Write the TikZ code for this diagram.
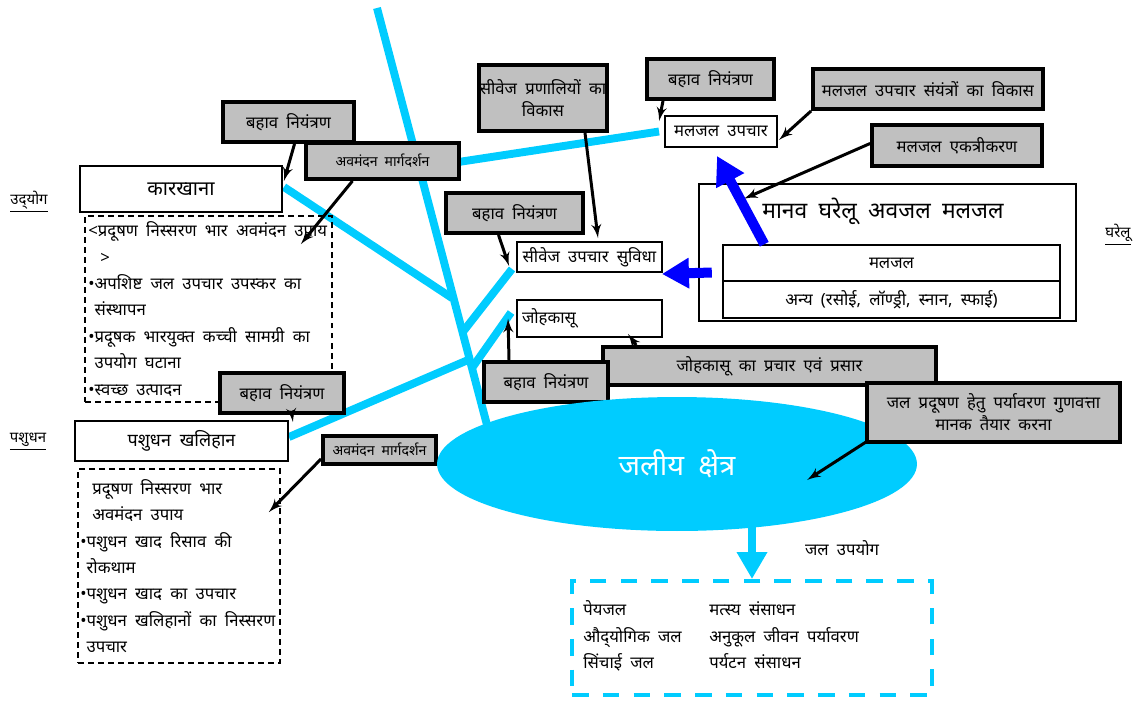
\documentclass[tikz,border=0pt]{standalone}
\usepackage{fontspec}
\setmainfont[Script=Devanagari,WordSpace=1.9]{Noto Sans}
\usepackage{tikz}
\usetikzlibrary{arrows,arrows.meta,shapes,positioning,calc,backgrounds}
\definecolor{watercyan}{HTML}{00CCFF}
\definecolor{boxgray}{HTML}{C0C0C0}
\newcommand{\fsbox}{\fontsize{9.5}{12.5}\selectfont}
\newcommand{\fssmall}{\fontsize{8}{9.5}\selectfont}
\newcommand{\fslabel}{\fontsize{8.5}{10}\selectfont}
\newcommand{\fsbig}{\fontsize{11.5}{14}\selectfont}
\newcommand{\fsmid}{\fontsize{10.2}{13}\selectfont}
\newcommand{\fstitle}{\fontsize{13}{16}\selectfont}
\newcommand{\fswater}{\fontsize{16.5}{20}\selectfont}
\newcommand{\fslist}{\fontsize{9.5}{15}\selectfont}
\begin{document}
\begin{tikzpicture}[x=0.02cm,y=-0.02cm, > = latex',
 graybox/.style={draw,line width=2.2pt,fill=boxgray,inner sep=0pt,align=center,font=\fsbox},
 whitebox/.style={draw,line width=1.1pt,fill=white,inner sep=0pt,font=\fsbox},
 listbox/.style={draw,line width=0.9pt,dash pattern=on 3.4pt off 2.3pt},
 listtext/.style={anchor=west,align=left,inner sep=0pt,font=\fslist},
 arr/.style={->,line width=1.7pt},
 branch/.style={watercyan,line width=4.5pt},
 bluearr/.style={blue,line width=5.7pt,-{Triangle[length=0.56cm,width=0.6cm]}}]
\useasboundingbox (0,0) rectangle (1146,701);
%industry: factory and its measures
\node[font=\fslabel] (udyog) at (29,202) {\underline{उद्^^^^200cयोग}};
\node[whitebox,minimum width=4.04cm,minimum height=0.92cm,font=\fsbig] (karkhana) at (181,189) {कारखाना};
\node[listbox,minimum width=4.94cm,minimum height=3.72cm] (indlist) at (208.5,309) {};
\node[listtext] (indtext) at (88,309) {<प्रदूषण निस्सरण भार अवमंदन उपाय\\\hspace*{0.24cm}>\\•अपशिष्ट जल उपचार उपस्कर का\\\phantom{•}संस्थापन\\•प्रदूषक भारयुक्त कच्ची सामग्री का\\\phantom{•}उपयोग घटाना\\•स्वच्छ उत्पादन};
\node[graybox,minimum width=2.62cm,minimum height=0.8cm] (bn1) at (288.5,122) {बहाव नियंत्रण};
\node[graybox,minimum width=3.06cm,minimum height=0.72cm,font=\fssmall] (am1) at (382.5,161) {अवमंदन मार्गदर्शन};
%livestock: farm and its measures
\node[font=\fslabel] (pashudhan) at (28,442) {\underline{पशुधन}};
\node[whitebox,minimum width=4.26cm,minimum height=0.8cm,font=\fsmid] (khalihan) at (181.5,441) {पशुधन खलिहान};
\node[listbox,minimum width=4.04cm,minimum height=3.88cm] (livelist) at (179,566) {};
\node[listtext] (livetext) at (80,566) {\hspace*{0.24cm}प्रदूषण निस्सरण भार\\\hspace*{0.24cm}अवमंदन उपाय\\•पशुधन खाद रिसाव की\\\phantom{•}रोकथाम\\•पशुधन खाद का उपचार\\•पशुधन खलिहानों का निस्सरण\\\phantom{•}उपचार};
\node[graybox,minimum width=2.48cm,minimum height=0.8cm] (bn2) at (282,393) {बहाव नियंत्रण};
\node[graybox,minimum width=2.26cm,minimum height=0.56cm,font=\fssmall] (am2) at (379.5,450) {अवमंदन मार्गदर्शन};
%sewerage in the middle
\node[graybox,minimum width=2.56cm,minimum height=1.32cm] (prnali) at (543,98) {सीवेज प्रणालियों का\\विकास};
\node[graybox,minimum width=2.54cm,minimum height=0.8cm] (bn3) at (710.5,79) {बहाव नियंत्रण};
\node[whitebox,minimum width=2.24cm,minimum height=0.62cm] (maljalupchar) at (721,131.5) {मलजल उपचार};
\node[graybox,minimum width=4.6cm,minimum height=0.8cm] (sanyantra) at (928,89) {मलजल उपचार संयंत्रों का विकास};
\node[graybox,minimum width=3.4cm,minimum height=0.82cm] (ekatri) at (957,145.5) {मलजल एकत्रीकरण};
\node[graybox,minimum width=2.74cm,minimum height=0.8cm] (bn4) at (514.5,213) {बहाव नियंत्रण};
\node[whitebox,minimum width=2.9cm,minimum height=0.6cm] (sivejsuvidha) at (589.5,257) {सीवेज उपचार सुविधा};
\node[whitebox,minimum width=2.9cm,minimum height=0.74cm,text width=2.7cm,inner xsep=0.1cm,align=left] (johkasu) at (589.5,318.5) {जोहकासू};
\node[graybox,minimum width=6.66cm,minimum height=0.76cm] (prachar) at (769.5,366) {जोहकासू का प्रचार एवं प्रसार};
\node[graybox,minimum width=2.48cm,minimum height=0.8cm] (bn5) at (546,382) {बहाव नियंत्रण};
%domestic wastewater
\node[draw,line width=1.4pt,minimum width=7.54cm,minimum height=2.74cm] (ghar) at (887.5,252.5) {};
\node[font=\fstitle] (ghartitle) at (883,211) {मानव घरेलू अवजल मलजल};
\node[draw,line width=0.85pt,minimum width=6.74cm,minimum height=0.72cm,font=\fsbox] (maljal) at (891.5,263) {मलजल};
\node[draw,line width=0.85pt,minimum width=6.74cm,minimum height=0.74cm,font=\fsbox] (anya) at (891.5,299.5) {अन्य (रसोई, लॉण्ड्री, स्नान, स्फाई)};
\node[font=\fslabel] (gharelu) at (1118,235) {\underline{घरेलू}};
%water body and its uses
\node[ellipse,fill=watercyan,minimum width=9.6cm,minimum height=2.68cm,inner sep=0pt,text=white,font=\fswater] (jaliya) at (677,464) {\raisebox{-0.16cm}{जलीय क्षेत्र}};
\node[graybox,minimum width=5.06cm,minimum height=1.18cm] (manak) at (993.5,412.5) {जल प्रदूषण हेतु पर्यावरण गुणवत्ता\\मानक तैयार करना};
\node[font=\fsbox] (jalupyog) at (842,548) {जल उपयोग};
\node[draw=watercyan,line width=2.3pt,dash pattern=on 9.5pt off 8pt,minimum width=7.2cm,minimum height=2.28cm] (uselist) at (752,638) {};
\node[listtext] (usetext) at (583,637) {\begin{tabular}{@{}p{2.52cm}@{}l@{}}पेयजल & मत्स्य संसाधन\\औद्^^^^200cयोगिक जल & अनुकूल जीवन पर्यावरण\\सिंचाई जल & पर्यटन संसाधन\end{tabular}};
%the drain lines behind everything
\coordinate (trunktop) at (377,8); \coordinate (trunkfoot) at (487,425);
\coordinate (jk) at (452,298); \coordinate (jm) at (419,168); \coordinate (js) at (462,333);
\coordinate (jj) at (472,368); \coordinate (jp) at (468,360);
\begin{scope}[on background layer]
\draw[branch] (trunktop) -- (trunkfoot);
\draw[branch] ($(karkhana.east)+(1,-2)$) -- (jk);
\draw[branch] ($(maljalupchar.west)+(-5,0)$) -- (jm);
\draw[branch] ($(sivejsuvidha.south west)+(-4,-4)$) -- (js);
\draw[branch] ($(johkasu.west)+(-5,-6)$) -- (jj);
\draw[branch] ($(khalihan.east)+(0,-4)$) -- (jp);
\end{scope}
%black arrows from the measures
\draw[arr] ($(bn1.south)+(6,0)$) -- ($(karkhana.north east)+(1,16)$);
\draw[arr] ($(am1.south)+(-30,0)$) -- ($(indlist.north east)+(-32,29)$);
\draw[arr] ($(bn2.south)+(10,0)$) -- ($(khalihan.north east)+(4,2)$);
\draw[arr] ($(am2.south west)+(0,-7)$) -- ($(livelist.north east)+(-12,44)$);
\draw[arr] ($(prnali.south)+(42,0)$) -- ($(sivejsuvidha.north)+(8.5,-3)$);
\draw[arr] ($(bn3.south)+(-47.5,0)$) -- ($(maljalupchar.north west)+(-5,6)$);
\draw[arr] (sanyantra.south west) -- ($(maljalupchar.east)+(1,8.5)$);
\draw[arr] ($(ekatri.west)+(0,-2)$) -- ($(ghar.north west)+(46,16)$);
\draw[arr] ($(bn4.south)+(-16,0)$) -- ($(sivejsuvidha.south west)+(-7,-7)$);
\draw[arr] ($(bn5.north)+(-37,0)$) -- ($(johkasu.west)+(-8,0)$);
\draw[arr] ($(prachar.north west)+(35,0)$) -- ($(johkasu.south)+(38.5,-4)$);
\draw[arr] ($(manak.south west)+(1,-2)$) -- ($(jaliya.center)+(130,16)$);
%blue flows of sewage
\draw[bluearr] ($(maljal.north west)+(42,0)$) -- ($(maljalupchar.south)+(-4,8)$);
\draw[bluearr,-{Triangle[length=0.54cm,width=0.58cm]}] ($(ghar.west)+(14,20)$) -- ($(sivejsuvidha.south east)+(-1,1)$);
%water use
\draw[watercyan,line width=5.1pt,-{Triangle[length=0.54cm,width=0.58cm]}] ($(jaliya.south)+(75,-6)$) -- (uselist.north);
\end{tikzpicture}
\end{document}
